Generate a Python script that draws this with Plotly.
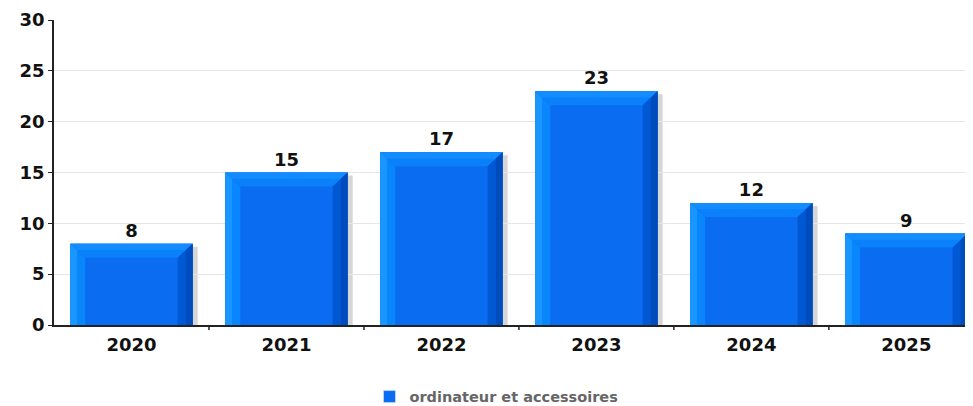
import plotly.graph_objects as go

categories = ["2020", "2021", "2022", "2023", "2024", "2025"]
values = [8, 15, 17, 23, 12, 9]
series_name = "ordinateur et accessoires"
y_ticks = [0, 5, 10, 15, 20, 25, 30]

# page has an 8px body margin; figure sized to fit the 973x406 window
W, H = 965, 398
ML, MT, MB, MR = 46, 12, 81, 0
XR = [-0.5, 5.43]
YR = [0, 30]
px_x = (W - ML - MR) / (XR[1] - XR[0])
px_y = (H - MT - MB) / (YR[1] - YR[0])

BW = 0.79
bx = 15 / px_x   # bevel width in data units
by = 14 / px_y   # bevel height in data units
sx = 5 / px_x    # shadow offset
sy = 3 / px_y

fig = go.Figure()
fig.add_trace(go.Bar(
    x=list(range(len(categories))), y=values, width=BW,
    marker=dict(color="#0a6cf0", line=dict(width=0)),
    name=series_name, showlegend=False,
    text=[str(v) for v in values], textposition="outside",
    textfont=dict(family="DejaVu Sans", size=18, color="#111111", weight="bold"),
    cliponaxis=False, hoverinfo="skip",
))
# legend entry
fig.add_trace(go.Bar(x=[None], y=[None], name=series_name,
                     marker=dict(color="#0a6cf0")))

shapes = []
for i, v in enumerate(values):
    x0, x1 = i - BW / 2, i + BW / 2
    # shadow
    shapes.append(dict(type="path", layer="below", xref="x", yref="y",
        path=f"M{x1},{0} L{x1+sx},{0} L{x1+sx},{v-sy} L{x0+sx},{v-sy} L{x0+sx},{v} L{x1},{v} Z",
        fillcolor="#d6d6d6", line=dict(width=0)))
    # left bevel
    shapes.append(dict(type="path", layer="above", xref="x", yref="y",
        path=f"M{x0},0 L{x0+bx},0 L{x0+bx},{v-by} L{x0},{v} Z",
        fillcolor="#0a86fc", line=dict(width=0)))
    shapes.append(dict(type="path", layer="above", xref="x", yref="y",
        path=f"M{x0},0 L{x0+bx*0.45},0 L{x0+bx*0.45},{v-by*0.45} L{x0},{v} Z",
        fillcolor="#1a96ff", line=dict(width=0)))
    # top bevel
    shapes.append(dict(type="path", layer="above", xref="x", yref="y",
        path=f"M{x0},{v} L{x1},{v} L{x1-bx},{v-by} L{x0+bx},{v-by} Z",
        fillcolor="#0a80fa", line=dict(width=0)))
    shapes.append(dict(type="path", layer="above", xref="x", yref="y",
        path=f"M{x0},{v} L{x1},{v} L{x1-bx*0.45},{v-by*0.45} L{x0+bx*0.45},{v-by*0.45} Z",
        fillcolor="#128cff", line=dict(width=0)))
    # right bevel
    shapes.append(dict(type="path", layer="above", xref="x", yref="y",
        path=f"M{x1},0 L{x1-bx},0 L{x1-bx},{v-by} L{x1},{v} Z",
        fillcolor="#0058d2", line=dict(width=0)))
    shapes.append(dict(type="path", layer="above", xref="x", yref="y",
        path=f"M{x1},0 L{x1-bx*0.45},0 L{x1-bx*0.45},{v-by*0.45} L{x1},{v} Z",
        fillcolor="#004cbc", line=dict(width=0)))

# category boundary ticks on x axis
for i in range(1, len(categories)):
    shapes.append(dict(type="line", xref="x", yref="paper", x0=i - 0.5, x1=i - 0.5,
                       y0=0, y1=-0.016, line=dict(color="#222222", width=1.5)))

fig.update_layout(
    width=W, height=H,
    margin=dict(l=ML, r=MR, t=MT, b=MB, autoexpand=False),
    paper_bgcolor="white", plot_bgcolor="white",
    barmode="overlay",
    shapes=shapes,
    font=dict(family="DejaVu Sans", size=14, color="#111111"),
    xaxis=dict(
        range=XR, tickmode="array", tickvals=list(range(len(categories))),
        ticktext=categories, showgrid=False, showline=True, linecolor="#222222",
        linewidth=1.5, ticks="", zeroline=False, automargin=False,
        ticklabelstandoff=3,
        tickfont=dict(family="DejaVu Sans", size=18, color="#111111", weight="bold"),
        fixedrange=True,
    ),
    yaxis=dict(
        range=YR, tickmode="array", tickvals=y_ticks,
        showgrid=True, gridcolor="#e6e6e6", gridwidth=1,
        showline=True, linecolor="#222222", linewidth=1.5,
        ticks="outside", ticklen=4, tickcolor="#222222", zeroline=False,
        automargin=False,
        tickfont=dict(family="DejaVu Sans", size=18, color="#111111", weight="bold"),
        fixedrange=True,
    ),
    showlegend=True,
    legend=dict(orientation="h", x=0.4815, xanchor="center", y=-0.235, yanchor="middle",
                font=dict(family="DejaVu Sans", size=14.5, color="#666666", weight="bold"),
                itemwidth=30),
)

fig.write_html("out.html")
